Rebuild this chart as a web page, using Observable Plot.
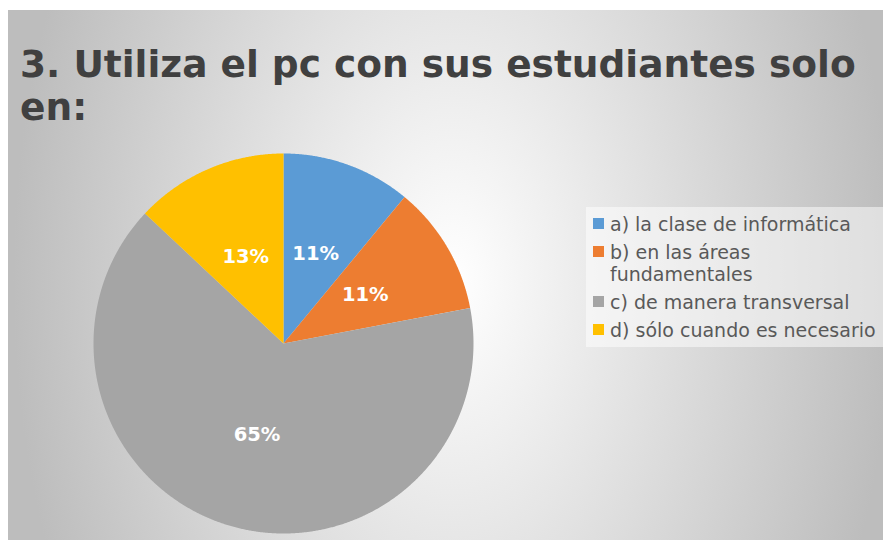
<!DOCTYPE html>
<html>
<head>
<meta charset="utf-8">
<script src="https://cdn.jsdelivr.net/npm/d3@7"></script>
<script src="https://cdn.jsdelivr.net/npm/@observablehq/plot@0.6"></script>
<style>
  html, body { margin: 0; padding: 0; background: #ffffff; }
  #panel {
    position: absolute; left: 8px; top: 10px; width: 875px; height: 530px; overflow: hidden;
    background: radial-gradient(ellipse 440px 700px at 445px 270px, #ffffff 0%, #bdbdbd 100%);
  }
  #title {
    position: absolute; left: 12px; top: 33px; white-space: nowrap;
    font-family: "DejaVu Sans", sans-serif;
    font-weight: bold; font-size: 37.5px; line-height: 43px; color: #404040;
  }
  #chart { position: absolute; left: 85px; top: 143px; }
  #legend {
    position: absolute; left: 578px; top: 197px; width: 297px; height: 140px;
    background: rgba(255,255,255,0.5); box-sizing: border-box; padding-top: 6px;
    font-family: "DejaVu Sans", sans-serif; font-size: 19px; line-height: 22px; color: #595959;
  }
  .item { position: relative; padding-left: 24px; margin-bottom: 6px; width: 272px; }
  .sw { position: absolute; left: 7px; top: 5px; width: 11px; height: 11px; }
</style>
</head>
<body>
<div id="panel">
  <div id="title"></div>
  <div id="chart"></div>
  <div id="legend"></div>
</div>
<script>
const titleLines = ["3. Utiliza el pc con sus estudiantes solo", "en:"];
const categories = ["a) la clase de informática", "b) en las áreas fundamentales", "c) de manera transversal", "d) sólo cuando es necesario"];
const values = [11, 11, 65, 13];
const labels = ["11%", "11%", "65%", "13%"];
const colors = ["#5b9bd5", "#ed7d31", "#a5a5a5", "#ffc000"];

// title
const t = document.getElementById("title");
titleLines.forEach((line, i) => {
  if (i) t.appendChild(document.createElement("br"));
  t.appendChild(document.createTextNode(line));
});

// legend
const lg = document.getElementById("legend");
categories.forEach((c, i) => {
  const it = document.createElement("div");
  it.className = "item";
  const sw = document.createElement("div");
  sw.className = "sw";
  sw.style.background = colors[i];
  it.appendChild(sw);
  it.appendChild(document.createTextNode(c));
  lg.appendChild(it);
});

// pie geometry from data
const data = categories.map((c, i) => ({cat: c, value: values[i], label: labels[i]}));
const arcs = d3.pie().sort(null).value(d => d.value)(data);
const pts = [];
const labelPts = [];
arcs.forEach(a => {
  const cat = a.data.cat;
  pts.push({cat, x: 0, y: 0});
  const n = Math.max(2, Math.ceil((a.endAngle - a.startAngle) / 0.005));
  for (let k = 0; k <= n; k++) {
    const ang = a.startAngle + (a.endAngle - a.startAngle) * k / n;
    pts.push({cat, x: Math.sin(ang), y: Math.cos(ang)});
  }
  pts.push({cat, x: 0, y: 0});
  const mid = (a.startAngle + a.endAngle) / 2;
  labelPts.push({x: 0.5 * Math.sin(mid), y: 0.5 * Math.cos(mid), label: a.data.label});
});

const chart = Plot.plot({
  width: 380, height: 380, margin: 0,
  x: {domain: [-1, 1], axis: null},
  y: {domain: [-1, 1], axis: null},
  color: {domain: categories, range: colors},
  style: {background: "transparent", overflow: "visible"},
  marks: [
    Plot.line(pts, {x: "x", y: "y", z: "cat", fill: "cat", stroke: "none", curve: "linear"}),
    Plot.text(labelPts, {x: "x", y: "y", text: "label", fill: "white", fontWeight: "bold",
      fontSize: 19.5, fontFamily: "DejaVu Sans, sans-serif"})
  ]
});
document.getElementById("chart").appendChild(chart);
</script>
</body>
</html>
